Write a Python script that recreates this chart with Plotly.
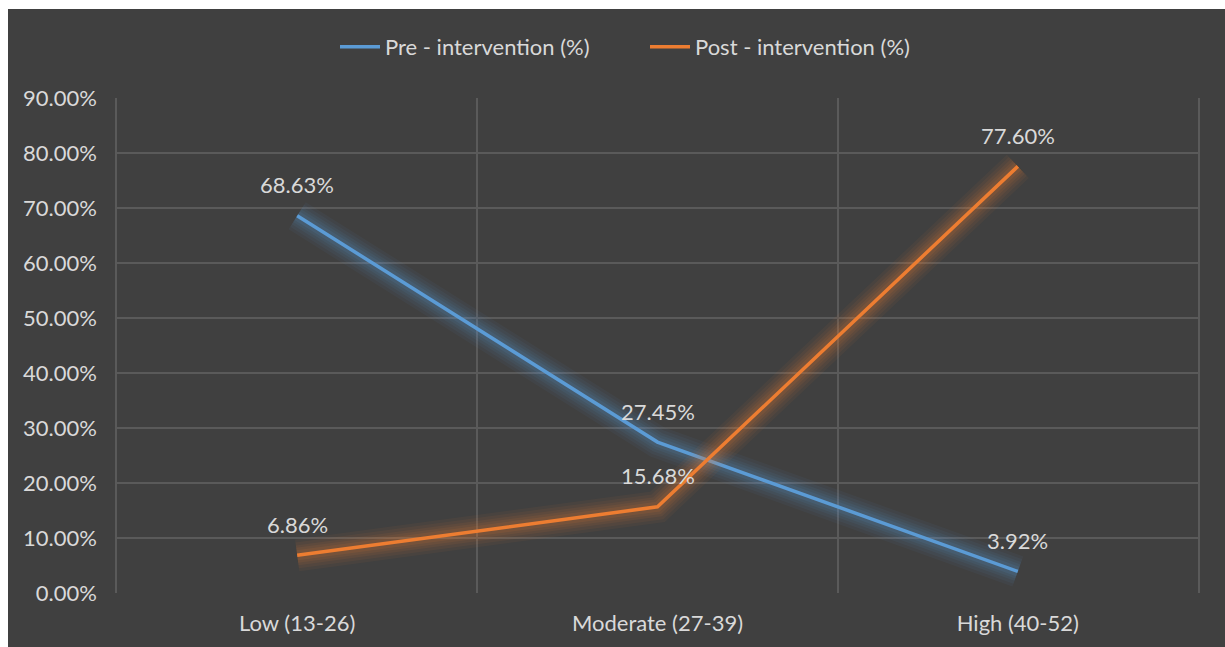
import plotly.graph_objects as go

# Knowledge levels by score band, before and after the intervention
categories = ["Low (13-26)", "Moderate (27-39)", "High (40-52)"]
pre_values = [0.6863, 0.2745, 0.0392]
post_values = [0.0686, 0.1568, 0.7760]
series_names = ["Pre - intervention (%)", "Post - intervention (%)"]
y_ticks = [0.0, 0.1, 0.2, 0.3, 0.4, 0.5, 0.6, 0.7, 0.8, 0.9]

BLUE = "#5b9bd5"
ORANGE = "#ed7d31"
BG = "#404040"
GRID = "#5a5a5a"
TEXT = "#d9d9d9"
FONT = "Lato"
FS = 22

W, H = 1225, 647
ML, MR, MT, MB = 117, 27, 98, 54
PW, PH = W - ML - MR, H - MT - MB

x_idx = list(range(len(categories)))

fig = go.Figure()


def add_series(values, color, name):
    # soft glow built from wide translucent strokes under the main line
    for width, alpha in [(32, 0.05), (26, 0.06), (20, 0.07), (15, 0.08), (10, 0.10)]:
        fig.add_trace(go.Scatter(
            x=x_idx, y=values, mode="lines",
            line=dict(color=color, width=width),
            opacity=alpha, hoverinfo="skip", showlegend=False,
        ))
    fig.add_trace(go.Scatter(
        x=x_idx, y=values, mode="lines", name=name,
        line=dict(color=color, width=3.5),
    ))


add_series(pre_values, BLUE, series_names[0])
add_series(post_values, ORANGE, series_names[1])

annotations = []
for values in (pre_values, post_values):
    for xi, v in zip(x_idx, values):
        annotations.append(dict(
            x=xi, y=v, xref="x", yref="y", text=f"{v * 100:.2f}%",
            showarrow=False, yshift=31,
            font=dict(family=FONT, size=FS, color=TEXT),
        ))

# dark chart panel, inset from the top and left page edges
panel = dict(
    type="rect", xref="paper", yref="paper", layer="below",
    x0=(8 - ML) / PW, x1=(W - ML) / PW,
    y0=-MB / PH, y1=(PH + MT - 9) / PH,
    fillcolor=BG, line=dict(width=0),
)

fig.update_layout(
    width=W, height=H,
    margin=dict(l=ML, r=MR, t=MT, b=MB),
    paper_bgcolor="white",
    plot_bgcolor=BG,
    shapes=[panel],
    annotations=annotations,
    font=dict(family=FONT, size=FS, color=TEXT),
    legend=dict(
        orientation="h", x=(335 - ML) / PW, xanchor="left",
        y=(PH + MT - 47) / PH, yanchor="middle",
        font=dict(family=FONT, size=FS, color=TEXT),
        bgcolor="rgba(0,0,0,0)", itemwidth=40, entrywidth=255,
    ),
    xaxis=dict(
        range=[-0.5, 2.5], tickmode="array", tickvals=x_idx, ticktext=categories,
        showgrid=False, zeroline=False, showline=False,
        ticks="outside", ticklen=11, tickcolor="rgba(0,0,0,0)",
        minor=dict(tickmode="array", tickvals=[0.5, 1.5],
                   showgrid=True, gridcolor=GRID, gridwidth=1.5, ticks=""),
        tickfont=dict(family=FONT, size=FS, color=TEXT),
        fixedrange=True,
    ),
    yaxis=dict(
        range=[0, 0.9004], tickmode="array", tickvals=y_ticks, tickformat=".2%",
        showgrid=True, gridcolor=GRID, gridwidth=1.5, zeroline=False,
        showline=True, mirror=True, linecolor=GRID, linewidth=1.5,
        ticks="outside", ticklen=14, tickcolor="rgba(0,0,0,0)",
        tickfont=dict(family=FONT, size=FS, color=TEXT),
        fixedrange=True,
    ),
)

fig.write_html("out.html")
